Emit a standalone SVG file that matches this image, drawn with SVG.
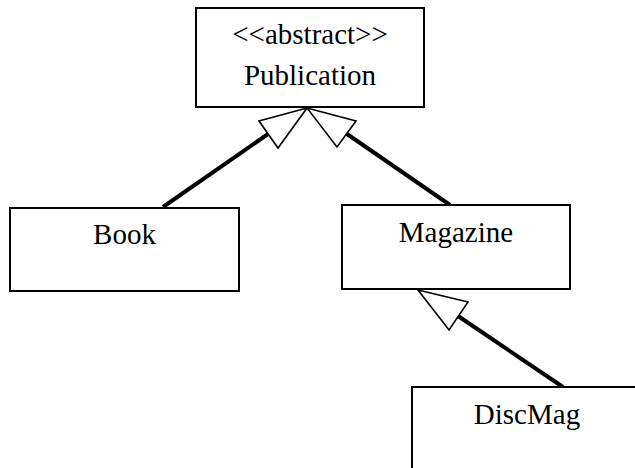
<svg xmlns="http://www.w3.org/2000/svg" width="635" height="468" viewBox="0 0 635 468">
  <style>
    .box { fill: #ffffff; stroke: #000000; stroke-width: 2; }
    .lbl { font-family: "Liberation Serif", "Times New Roman", serif; font-size: 29px; fill: #000000; text-anchor: middle; }
    .line { stroke: #000000; stroke-width: 4; fill: none; }
    .head { fill: #ffffff; stroke: #000000; stroke-width: 1.6; stroke-linejoin: miter; }
  </style>
  <rect x="0" y="0" width="635" height="468" fill="#ffffff"/>
  <g id="connectors">
    <line class="line" x1="268" y1="134" x2="163" y2="207"/>
    <polygon class="head" points="307,108 259,121 278,148"/>
    <line class="line" x1="347" y1="134" x2="450" y2="205"/>
    <polygon class="head" points="307,108 356,121 337,147"/>
    <line class="line" x1="458" y1="316" x2="563" y2="387"/>
    <polygon class="head" points="418,290 468,302 449,330"/>
  </g>
  <g id="publication">
    <rect class="box" x="196" y="8" width="228" height="99"/>
    <text class="lbl" x="310" y="44">&lt;&lt;abstract&gt;&gt;</text>
    <text class="lbl" x="310" y="85">Publication</text>
  </g>
  <g id="book">
    <rect class="box" x="10" y="208" width="229" height="83"/>
    <text class="lbl" x="124.5" y="244">Book</text>
  </g>
  <g id="magazine">
    <rect class="box" x="342" y="205" width="228" height="84"/>
    <text class="lbl" x="456" y="242">Magazine</text>
  </g>
  <g id="discmag">
    <rect class="box" x="412" y="387" width="230" height="90"/>
    <text class="lbl" x="527" y="424">DiscMag</text>
  </g>
</svg>
